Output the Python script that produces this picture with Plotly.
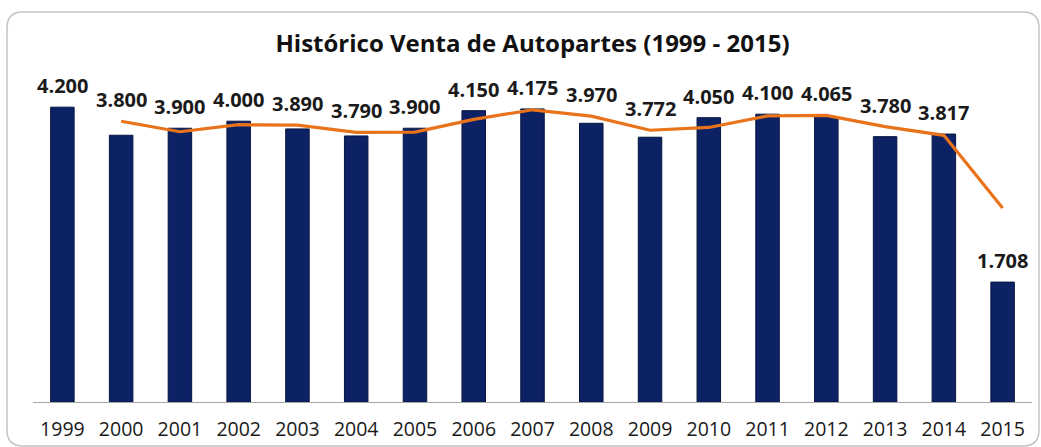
import plotly.graph_objects as go

years = [1999, 2000, 2001, 2002, 2003, 2004, 2005, 2006, 2007,
         2008, 2009, 2010, 2011, 2012, 2013, 2014, 2015]
ventas = [4200, 3800, 3900, 4000, 3890, 3790, 3900, 4150, 4175,
          3970, 3772, 4050, 4100, 4065, 3780, 3817, 1708]
title_text = "Histórico Venta de Autopartes (1999 - 2015)"

# 2-period moving average (trend line), starting from the second year
ma_years = years[1:]
ma_vals = [(ventas[i - 1] + ventas[i]) / 2 for i in range(1, len(ventas))]

W, H = 1041, 447
ml, mr, mt, mb = 33, 9, 51, 45
pw, ph = W - ml - mr, H - mt - mb
FONT = "Open Sans, Lato, sans-serif"

def fmt(v):
    return f"{v:,}".replace(",", ".")

fig = go.Figure()
fig.add_trace(go.Bar(
    x=years, y=ventas,
    marker=dict(color="#0D2264", line=dict(color="#071640", width=1)),
    width=0.40,
    hoverinfo="skip",
))
fig.add_trace(go.Scatter(
    x=ma_years, y=ma_vals, mode="lines",
    line=dict(color="#E8731A", width=3.2),
    hoverinfo="skip",
))

annotations = []
for i, (yr, v) in enumerate(zip(years, ventas)):
    anchor = v
    if 0 < i < len(ventas) - 1:
        anchor = max(v, ma_vals[i - 1])
    annotations.append(dict(
        x=yr, y=anchor, xref="x", yref="y", text=fmt(v), showarrow=False,
        yanchor="bottom", yshift=6,
        font=dict(family=FONT, size=20, color="#1A1A1A", weight="bold"),
    ))

# rounded card border (pixel -> paper coordinates)
def px(xp):
    return (xp - ml) / pw

def py(yp):
    return (H - mb - yp) / ph

x0, y0, x1, y1, r = 7, 12, 1039, 446, 16
path = (
    f"M {px(x0 + r)} {py(y0)} L {px(x1 - r)} {py(y0)} "
    f"Q {px(x1)} {py(y0)} {px(x1)} {py(y0 + r)} "
    f"L {px(x1)} {py(y1 - r)} Q {px(x1)} {py(y1)} {px(x1 - r)} {py(y1)} "
    f"L {px(x0 + r)} {py(y1)} Q {px(x0)} {py(y1)} {px(x0)} {py(y1 - r)} "
    f"L {px(x0)} {py(y0 + r)} Q {px(x0)} {py(y0)} {px(x0 + r)} {py(y0)} Z"
)

fig.update_layout(
    width=W, height=H,
    margin=dict(l=ml, r=mr, t=mt, b=mb, autoexpand=False),
    paper_bgcolor="white", plot_bgcolor="white",
    showlegend=False,
    title=dict(
        text=title_text, x=0.5, xanchor="center", y=1 - 44 / H, yanchor="middle",
        xref="paper", automargin=False,
        font=dict(family=FONT, size=24, color="#111111", weight="bold"),
    ),
    xaxis=dict(
        range=[years[0] - 0.5, years[-1] + 0.5],
        tickmode="array", tickvals=years, ticktext=[str(y) for y in years],
        showgrid=False, zeroline=False, showline=True, linecolor="#A6A6A6", linewidth=1.3,
        ticks="", ticklabelstandoff=9,
        tickfont=dict(family=FONT, size=19.5, color="#1A1A1A"),
        fixedrange=True, automargin=False,
    ),
    yaxis=dict(range=[0, 5000], visible=False, fixedrange=True, automargin=False),
    annotations=annotations,
    shapes=[dict(type="path", path=path, xref="paper", yref="paper",
                 line=dict(color="#C4C4C4", width=1.5), layer="below")],
)

fig.write_html(
    "out.html",
    config={"displayModeBar": False},
    post_script="document.body.style.margin='0';document.body.style.overflow='hidden';",
)
